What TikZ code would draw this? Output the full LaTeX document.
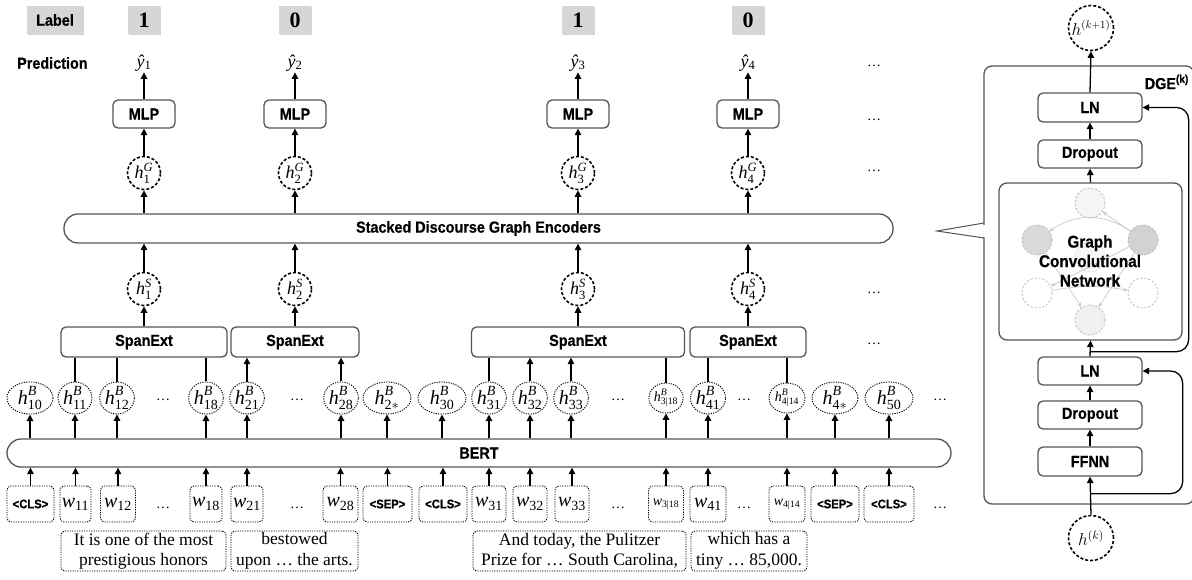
\documentclass[tikz,border=0pt]{standalone}
\usepackage{amsmath}
\usepackage{fontspec}
\setmainfont{Liberation Serif}
\newfontfamily\condb{Liberation Sans}[FakeStretch=0.9,FakeBold=0.5]
\usetikzlibrary{arrows.meta,shapes.geometric,shadows,calc}
\definecolor{boxgray}{HTML}{555555}
\definecolor{lblgray}{HTML}{D6D6D6}
\definecolor{edgegray}{HTML}{C8C8C8}
\newcommand{\hB}[2]{$\text{\itshape h}^{\text{\itshape B}}_{\text{#2}}$}
\newcommand{\wt}[1]{$\text{\itshape w}_{\text{#1}}$}
\begin{document}
\begin{tikzpicture}[x=1pt,y=-1pt,
  sanslbl/.style={font=\condb\bfseries\fontsize{16}{19}\selectfont},
  blk/.style={draw=boxgray, line width=1.3pt, rounded corners=5pt, fill=white, sanslbl, inner sep=0pt},
  bar/.style={draw=boxgray, line width=1.3pt, rounded corners=14pt, fill=white, sanslbl, inner sep=0pt, minimum height=29pt},
  arr/.style={-{Triangle[length=6.5pt,width=6.5pt]}, line width=1.3pt},
  ln/.style={line width=1.3pt},
  hbn/.style={ellipse, draw, line width=0.9pt, dash pattern=on 1.2pt off 1.2pt, minimum height=30pt, inner sep=0pt, font=\fontsize{20}{22}\selectfont},
  hcn/.style={circle, draw, line width=1.6pt, dash pattern=on 3pt off 2pt, minimum size=33pt, inner sep=0pt, font=\fontsize{18}{20}\selectfont},
  tok/.style={draw, rounded corners=4pt, line width=0.9pt, dash pattern=on 1.2pt off 1.2pt, minimum height=36pt, inner sep=0pt, font=\fontsize{20}{22}\selectfont},
  stok/.style={tok, font=\condb\bfseries\fontsize{12.5}{14}\selectfont},
  sent/.style={draw, rounded corners=4pt, line width=0.9pt, dash pattern=on 1.2pt off 1.2pt, minimum height=40pt, inner sep=0pt, align=center, font=\fontsize{17.5}{20.5}\selectfont},
  lbl/.style={fill=lblgray, minimum height=28pt, inner sep=0pt, drop shadow={shadow xshift=1pt, shadow yshift=-1pt, opacity=0.35}},
  numlbl/.style={lbl, minimum width=32pt, font=\bfseries\fontsize{22}{24}\selectfont},
  dts/.style={font=\fontsize{14}{14}\selectfont, inner sep=0pt},
  gnode/.style={circle, draw=gray!55, line width=0.8pt, dash pattern=on 2.2pt off 1.8pt, minimum size=30pt, inner sep=0pt},
  gedge/.style={draw=edgegray, line width=0.7pt, -{Stealth[length=4.5pt,width=4pt]}}
]
\useasboundingbox (0,0) rectangle (1192,579);

% ---------- labels ----------
\node[lbl, sanslbl, minimum width=56pt] (label) at (55,20) {Label};
\node[numlbl] (l1) at (144,20) {1};
\node[numlbl] (l2) at (295,20) {0};
\node[numlbl] (l3) at (578,20) {1};
\node[numlbl] (l4) at (748,20) {0};

\node[sanslbl, anchor=west, inner sep=0pt] (pred) at (17,63) {Prediction};
\node[font=\fontsize{18}{20}\selectfont, inner sep=1pt] (y1) at (144,63) {{\itshape ŷ}$_{\text{1}}$};
\node[font=\fontsize{18}{20}\selectfont, inner sep=1pt] (y2) at (295,63) {{\itshape ŷ}$_{\text{2}}$};
\node[font=\fontsize{18}{20}\selectfont, inner sep=1pt] (y3) at (578,63) {{\itshape ŷ}$_{\text{3}}$};
\node[font=\fontsize{18}{20}\selectfont, inner sep=1pt] (y4) at (748,63) {{\itshape ŷ}$_{\text{4}}$};

\node[blk, minimum width=62pt, minimum height=28pt] (mlp1) at (144,114) {MLP};
\node[blk, minimum width=62pt, minimum height=28pt] (mlp2) at (295,114) {MLP};
\node[blk, minimum width=62pt, minimum height=28pt] (mlp3) at (578,114) {MLP};
\node[blk, minimum width=62pt, minimum height=28pt] (mlp4) at (748,114) {MLP};

\node[hcn] (hg1) at (144,173) {$\text{\itshape h}^{\text{\itshape G}}_{\text{1}}$};
\node[hcn] (hg2) at (295,173) {$\text{\itshape h}^{\text{\itshape G}}_{\text{2}}$};
\node[hcn] (hg3) at (578,173) {$\text{\itshape h}^{\text{\itshape G}}_{\text{3}}$};
\node[hcn] (hg4) at (748,173) {$\text{\itshape h}^{\text{\itshape G}}_{\text{4}}$};

\node[bar, minimum width=829pt] (sdge) at (478.5,228.5) {Stacked Discourse Graph Encoders};

\node[hcn] (hs1) at (144,289) {$\text{\itshape h}^{\text{\itshape S}}_{\text{1}}$};
\node[hcn] (hs2) at (295,289) {$\text{\itshape h}^{\text{\itshape S}}_{\text{2}}$};
\node[hcn] (hs3) at (578,289) {$\text{\itshape h}^{\text{\itshape S}}_{\text{3}}$};
\node[hcn] (hs4) at (748,289) {$\text{\itshape h}^{\text{\itshape S}}_{\text{4}}$};

\node[blk, minimum width=166pt, minimum height=30pt] (se1) at (144,342) {SpanExt};
\node[blk, minimum width=128pt, minimum height=30pt] (se2) at (295,342) {SpanExt};
\node[blk, minimum width=213pt, minimum height=30pt] (se3) at (578,342) {SpanExt};
\node[blk, minimum width=116pt, minimum height=30pt] (se4) at (748,342) {SpanExt};

% dots column right
\node[dts] (d1) at (874,66) {\ldots};
\node[dts] (d2) at (874,120) {\ldots};
\node[dts] (d3) at (874,171) {\ldots};
\node[dts] (d4) at (874,293) {\ldots};
\node[dts] (d5) at (874,344) {\ldots};

% ---------- h^B row ----------
\node[hbn, minimum width=46pt] (hb10) at (30,398) {\hB{B}{10}};
\node[hbn, minimum width=32pt] (hb11) at (75,398) {\hB{B}{11}};
\node[hbn, minimum width=33pt] (hb12) at (117,398) {\hB{B}{12}};
\node[dts] (hd1) at (163,400) {\ldots};
\node[hbn, minimum width=32pt] (hb18) at (206,398) {\hB{B}{18}};
\node[hbn, minimum width=32pt] (hb21) at (247,398) {\hB{B}{21}};
\node[dts] (hd2) at (297,400) {\ldots};
\node[hbn, minimum width=32pt] (hb28) at (341,398) {\hB{B}{28}};
\node[hbn, minimum width=48pt] (hb2s) at (387,398) {$\text{\itshape h}^{\text{\itshape B}}_{\text{2}\ast}$};
\node[hbn, minimum width=48pt] (hb30) at (442,398) {\hB{B}{30}};
\node[hbn, minimum width=34pt] (hb31) at (489,398) {\hB{B}{31}};
\node[hbn, minimum width=34pt] (hb32) at (530,398) {\hB{B}{32}};
\node[hbn, minimum width=34pt] (hb33) at (571,398) {\hB{B}{33}};
\node[dts] (hd3) at (618,400) {\ldots};
\node[hbn, minimum width=33pt, font=\fontsize{14}{16}\selectfont] (hb318) at (666,398) {\hB{B}{3|18}};
\node[hbn, minimum width=35pt] (hb41) at (708,398) {\hB{B}{41}};
\node[dts] (hd4) at (744,400) {\ldots};
\node[hbn, minimum width=36pt, font=\fontsize{14}{16}\selectfont] (hb414) at (787,398) {\hB{B}{4|14}};
\node[hbn, minimum width=46pt] (hb4s) at (835,398) {$\text{\itshape h}^{\text{\itshape B}}_{\text{4}\ast}$};
\node[hbn, minimum width=48pt] (hb50) at (889,398) {\hB{B}{50}};
\node[dts] (hd5) at (940,400) {\ldots};

% ---------- BERT ----------
\node[bar, minimum width=944pt, minimum height=28pt] (bert) at (479,453) {BERT};

% ---------- tokens ----------
\node[stok, minimum width=47pt] (t10) at (30.5,504) {<CLS>};
\node[tok, minimum width=31pt] (t11) at (75.5,504) {\wt{11}};
\node[tok, minimum width=35pt] (t12) at (118,504) {\wt{12}};
\node[dts] (td1) at (163,508) {\ldots};
\node[tok, minimum width=32pt] (t18) at (206,504) {\wt{18}};
\node[tok, minimum width=32pt] (t21) at (247,504) {\wt{21}};
\node[dts] (td2) at (297,508) {\ldots};
\node[tok, minimum width=35pt] (t28) at (340.5,504) {\wt{28}};
\node[stok, minimum width=49pt] (t2s) at (387.5,504) {<SEP>};
\node[stok, minimum width=48pt] (t30) at (443,504) {<CLS>};
\node[tok, minimum width=34pt] (t31) at (489,504) {\wt{31}};
\node[tok, minimum width=34pt] (t32) at (530,504) {\wt{32}};
\node[tok, minimum width=34pt] (t33) at (572,504) {\wt{33}};
\node[dts] (td3) at (618,508) {\ldots};
\node[tok, minimum width=35pt, font=\fontsize{14}{16}\selectfont] (t318) at (666,504) {\wt{3|18}};
\node[tok, minimum width=36pt] (t41) at (708,504) {\wt{41}};
\node[dts] (td4) at (744,508) {\ldots};
\node[tok, minimum width=36pt, font=\fontsize{14}{16}\selectfont] (t414) at (787,504) {\wt{4|14}};
\node[stok, minimum width=48pt] (t4s) at (835,504) {<SEP>};
\node[stok, minimum width=50pt] (t50) at (889,504) {<CLS>};
\node[dts] (td5) at (940,508) {\ldots};

% ---------- sentences ----------
\node[sent, minimum width=165pt] (s1) at (143.5,551) {It is one of the most\\prestigious honors};
\node[sent, minimum width=127pt] (s2) at (294.5,551) {bestowed\\upon \ldots\ the arts.};
\node[sent, minimum width=213pt] (s3) at (579.5,551) {And today, the Pulitzer\\Prize for \ldots\ South Carolina,};
\node[sent, minimum width=116pt] (s4) at (749,551) {which has a\\tiny \ldots\ 85,000.};

% ---------- connectors left ----------
\foreach \c in {1,2,3,4}{
  \draw[arr] (mlp\c.north) -- (y\c.south);
  \draw[arr] (hg\c.north) -- (mlp\c.south);
  \draw[arr] (hg\c |- sdge.north) -- (hg\c.south);
  \draw[arr] (hs\c.north) -- (hs\c |- sdge.south);
  \draw[arr] (se\c.north) -- (hs\c.south);
}
\foreach \h in {hb10,hb11,hb12,hb18,hb21,hb28,hb2s,hb30,hb31,hb32,hb33,hb318,hb41,hb414,hb4s,hb50}{
  \draw[arr] (\h |- bert.north) -- (\h.south);
}
\foreach \t in {t10,t11,t12,t18,t21,t28,t2s,t30,t31,t32,t33,t318,t41,t414,t4s,t50}{
  \draw[arr] (\t.north) -- (\t |- bert.south);
}
% span connectors
\draw[ln] (hb11.north) -- (hb11 |- se1.south);
\draw[ln] (hb12.north) -- (hb12 |- se1.south);
\draw[ln] (hb18.north) -- (hb18 |- se1.south);
\draw[arr] (hb21.north) -- (hb21 |- se2.south);
\draw[arr] (hb28.north) -- (hb28 |- se2.south);
\draw[ln] (hb31.north) -- (hb31 |- se3.south);
\draw[arr] (hb32.north) -- (hb32 |- se3.south);
\draw[arr] (hb33.north) -- (hb33 |- se3.south);
\draw[ln] (hb318.north) -- (hb318 |- se3.south);
\draw[ln] (hb41.north) -- (hb41 |- se4.south);
\draw[ln] (hb414.north) -- (hb414 |- se4.south);

% ---------- right panel ----------
\draw[draw=boxgray, line width=1.3pt, rounded corners=8pt] (984,66) rectangle (1194,504);
\coordinate (ctip) at (937,231);
\draw[draw=boxgray, line width=1pt] (984,223) -- (ctip) -- (984,238);
\draw[white, line width=2.5pt] (984,224.5) -- (984,236.5);
\node[sanslbl, anchor=east, inner sep=0pt] (dgelbl) at (1189,82) {DGE\textsuperscript{(k)}};

\node[hcn, minimum size=45pt, font=\fontsize{16}{18}\selectfont] (hk1) at (1091,28) {$h^{(k+1)}$};
\node[blk, minimum width=104pt, minimum height=29pt] (ln1) at (1090,107.5) {LN};
\node[blk, minimum width=104pt, minimum height=28pt] (do1) at (1090,154) {Dropout};
\node[draw=boxgray, line width=1.3pt, rounded corners=8pt, minimum width=183pt, minimum height=157pt, inner sep=0pt] (gcn) at (1090.5,261.5) {};
\node[blk, minimum width=104pt, minimum height=28pt] (ln2) at (1090,371) {LN};
\node[blk, minimum width=104pt, minimum height=28pt] (do2) at (1090,415) {Dropout};
\node[blk, minimum width=104pt, minimum height=29pt] (ffnn) at (1090,461.5) {FFNN};
\node[hcn, minimum size=45pt, font=\fontsize{18}{20}\selectfont] (hk) at (1091,538) {$h^{(k)}$};

% graph inside GCN
\node[gnode, fill=gray!8] (gT) at (1090,203) {};
\node[gnode, fill=gray!30] (gL) at (1037,240) {};
\node[gnode, fill=gray!35] (gR) at (1143,240) {};
\node[gnode, fill=gray!6, draw=gray!25] (gC) at (1090,257) {};
\node[gnode] (gBL) at (1037,293) {};
\node[gnode] (gBR) at (1143,293) {};
\node[gnode, fill=gray!12] (gB) at (1090,320) {};
\draw[gedge] (gR) -- (gT);
\draw[gedge] (gR) to[bend right=35] (gL);
\draw[gedge] (gL) -- (gB);
\draw[gedge] (gR) -- (gB);
\draw[gedge] (gR) -- (gBL);
\draw[gedge] (gBL) to[bend left=10] (gBR);
\node[align=center, inner sep=0pt, font=\condb\bfseries\fontsize{17}{19.5}\selectfont] (gcntxt) at (1090,261) {Graph\\Convolutional\\Network};

\draw[arr] (hk.north) -- (ffnn.south);
\draw[arr] (ffnn.north) -- (do2.south);
\draw[arr] (do2.north) -- (ln2.south);
\draw[arr] (ln2.north) -- (gcn.south);
\draw[arr] (gcn.north) -- (do1.south);
\draw[arr] (do1.north) -- (ln1.south);
\draw[arr] (ln1.north) -- (hk1.south);
\coordinate (r1) at ($(ffnn.south)+(0,17)$);
\coordinate (r2) at ($(gcn.south)+(0,11)$);
\draw[arr, rounded corners=12pt] (r1) -| ($(ln2.east)+(40,0)$) -- (ln2.east);
\draw[arr, rounded corners=12pt] (r2) -| ($(ln1.east)+(46,0)$) -- (ln1.east);
\end{tikzpicture}
\end{document}
